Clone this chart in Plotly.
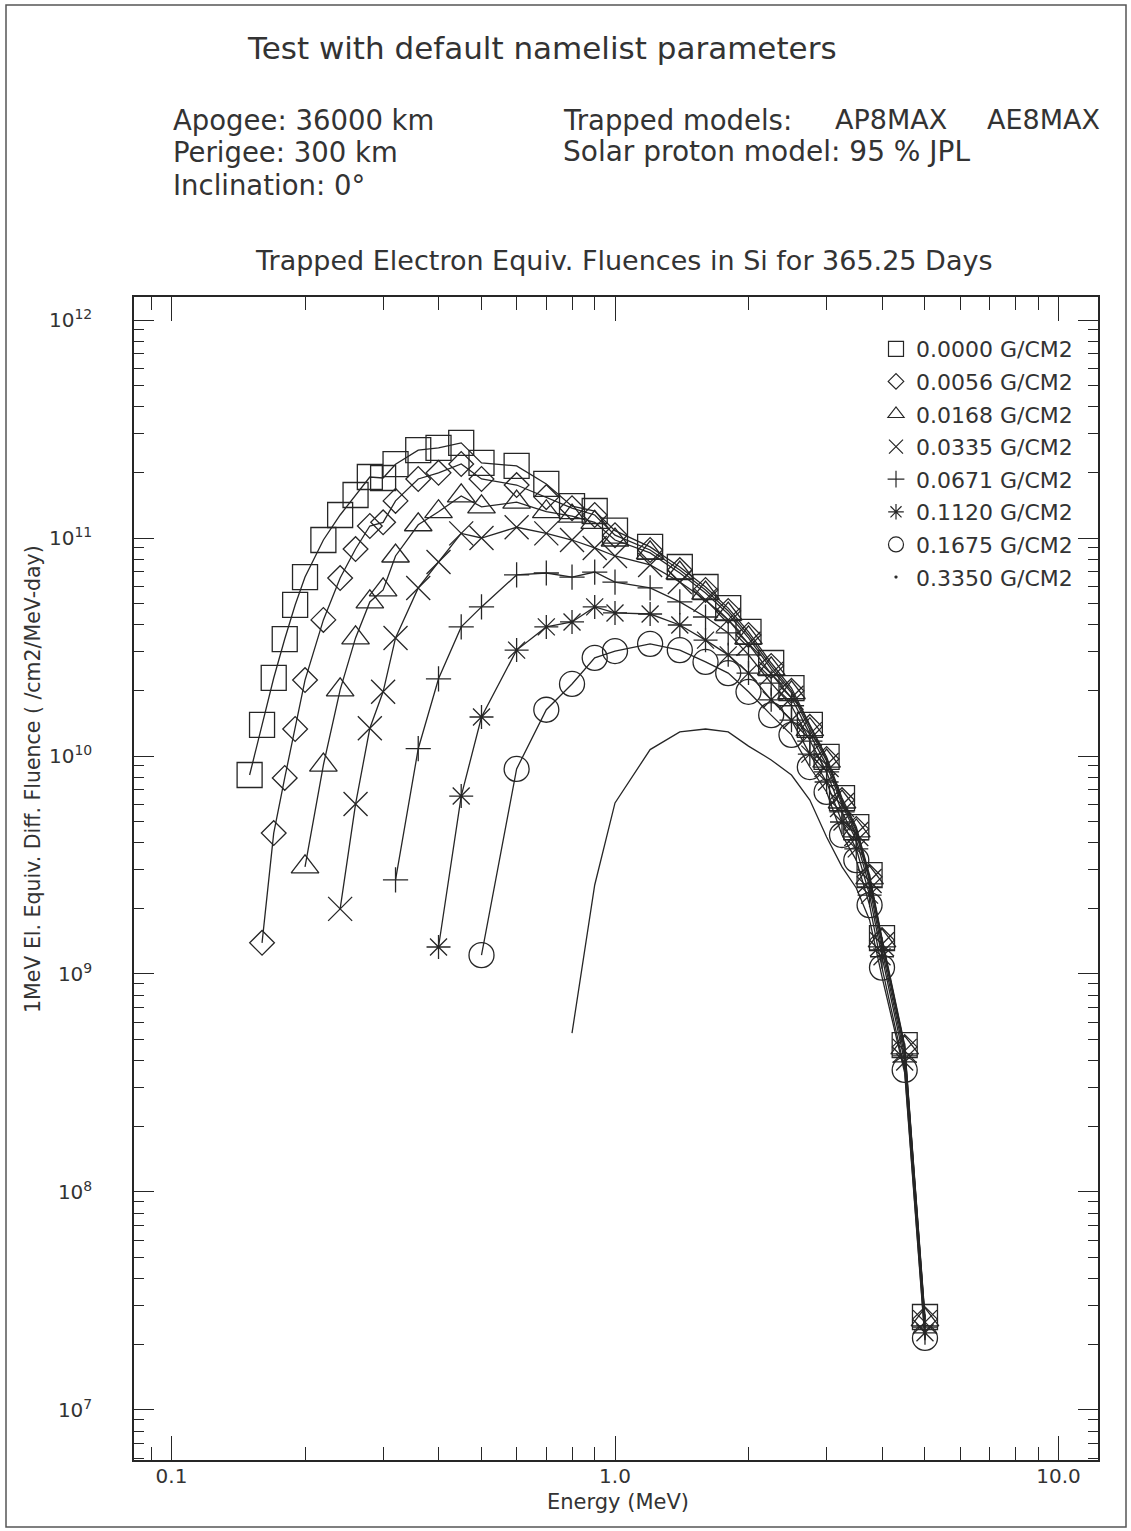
import plotly.graph_objects as go

# ---------------- data ----------------
energy = [0.15, 0.16, 0.17, 0.18, 0.19, 0.20, 0.22, 0.24, 0.26, 0.28, 0.30, 0.32,
          0.36, 0.40, 0.45, 0.50, 0.60, 0.70, 0.80, 0.90, 1.0, 1.2, 1.4, 1.6, 1.8,
          2.0, 2.25, 2.5, 2.75, 3.0, 3.25, 3.5, 3.75, 4.0, 4.5, 5.0]

f_0000 = [8.18e9, 1.39e10, 2.28e10, 3.44e10, 4.93e10, 6.62e10, 9.79e10, 1.275e11, 1.575e11,
          1.905e11, 1.885e11, 2.18e11, 2.53e11, 2.59e11, 2.73e11, 2.21e11, 2.14e11, 1.77e11,
          1.40e11, 1.33e11, 1.08e11, 9.1e10, 7.36e10, 5.96e10, 4.77e10, 3.71e10, 2.67e10,
          2.05e10, 1.39e10, 9.9e9, 6.41e9, 4.72e9, 2.84e9, 1.46e9, 4.72e8, 2.67e7]
f_0056 = [None,
          1.39e9, 4.43e9, 7.93e9, 1.33e10, 2.23e10, 4.21e10, 6.55e10, 8.90e10, 1.135e11, 1.18e11,
          1.48e11, 1.865e11, 1.99e11, 2.185e11, 1.865e11, 1.75e11, 1.54e11, 1.37e11, 1.275e11,
          1.03e11, 8.81e10, 7.13e10, 5.78e10, 4.63e10, 3.59e10, 2.59e10, 1.99e10, 1.36e10,
          9.69e9, 6.28e9, 4.63e9, 2.79e9, 1.43e9, 4.63e8, 2.61e7]
f_0168 = [None, None, None, None, None,
          3.10e9, 9.09e9, 2.01e10, 3.48e10, 5.09e10, 5.78e10, 8.27e10, 1.15e11, 1.32e11, 1.56e11,
          1.39e11, 1.46e11, 1.32e11, 1.26e11, 1.18e11, 9.79e10, 8.54e10, 6.91e10, 5.59e10,
          4.48e10, 3.48e10, 2.51e10, 1.95e10, 1.32e10, 9.48e9, 6.15e9, 4.53e9, 2.76e9, 1.42e9,
          4.58e8, 2.59e7]
f_0335 = [None, None, None, None, None, None, None,
          1.99e9, 6.02e9, 1.34e10, 1.97e10, 3.48e10, 5.90e10, 7.76e10, 1.05e11, 1.00e11, 1.12e11,
          1.05e11, 9.79e10, 9.00e10, 8.27e10, 7.52e10, 6.28e10, 5.20e10, 4.21e10, 3.27e10,
          2.38e10, 1.85e10, 1.26e10, 9.09e9, 5.96e9, 4.39e9, 2.67e9, 1.37e9, 4.44e8, 2.53e7]
f_0671 = [None, None, None, None, None, None, None, None, None, None, None,
          2.70e9, 1.08e10, 2.26e10, 3.91e10, 4.83e10, 6.77e10, 6.91e10, 6.62e10, 6.98e10, 6.28e10,
          5.90e10, 5.09e10, 4.34e10, 3.67e10, 2.91e10, 2.16e10, 1.70e10, 1.17e10, 8.45e9,
          5.54e9, 4.12e9, 2.51e9, 1.29e9, 4.21e8, 2.40e7]
f_1120 = [None, None, None, None, None, None, None, None, None, None, None, None, None,
          1.33e9, 6.55e9, 1.51e10, 3.06e10, 3.91e10, 4.12e10, 4.83e10, 4.53e10, 4.48e10, 3.99e10,
          3.40e10, 2.91e10, 2.40e10, 1.81e10, 1.46e10, 1.02e10, 7.60e9, 4.98e9, 3.75e9, 2.30e9,
          1.20e9, 3.95e8, 2.26e7]
f_1675 = [None, None, None, None, None, None, None, None, None, None, None, None, None, None, None,
          1.22e9, 8.72e9, 1.63e10, 2.14e10, 2.82e10, 3.03e10, 3.27e10, 3.06e10, 2.70e10, 2.40e10,
          1.97e10, 1.54e10, 1.25e10, 8.90e9, 6.84e9, 4.34e9, 3.33e9, 2.07e9, 1.07e9, 3.63e8,
          2.14e7]
f_3350 = [None, None, None, None, None, None, None, None, None, None, None, None, None, None, None,
          None, None, None,
          5.36e8, 2.56e9, 6.09e9, 1.07e10, 1.29e10, 1.33e10, 1.29e10, 1.11e10, 9.59e9, 8.18e9,
          6.28e9, 4.25e9, 3.10e9, 2.48e9, 1.77e9, 9.69e8, 3.52e8, 2.09e7]

series_labels = ["0.0000 G/CM2", "0.0056 G/CM2", "0.0168 G/CM2", "0.0335 G/CM2",
                 "0.0671 G/CM2", "0.1120 G/CM2", "0.1675 G/CM2", "0.3350 G/CM2"]
series_values = [f_0000, f_0056, f_0168, f_0335, f_0671, f_1120, f_1675, f_3350]

x_tickvals = [0.1, 1.0, 10.0]
x_ticktext = ["0.1", "1.0", "10.0"]
x_minor = [0.09, 0.2, 0.3, 0.4, 0.5, 0.6, 0.7, 0.8, 0.9, 2, 3, 4, 5, 6, 7, 8, 9]
y_tickvals = [1e7, 1e8, 1e9, 1e10, 1e11, 1e12]
y_ticktext = ["10<sup>7</sup>", "10<sup>8</sup>", "10<sup>9</sup>",
              "10<sup>10</sup>", "10<sup>11</sup>", "10<sup>12</sup>"]
y_minor = [m * 10 ** e for e in range(6, 13) for m in range(2, 10)]

# ---------------- styling ----------------
W, H = 1131, 1531
L, R, T, B = 134, 1098, 297, 1460
INK = "#262626"
TXT = "#333333"
FONT = "DejaVu Sans"

symbols = ["square-open", "diamond-open", "triangle-up-open", "x-thin-open",
           "cross-thin-open", "asterisk-open", "circle-open", "circle"]
sizes = [25, 19, 24, 24, 18, 20, 25, 2]
modes = ["lines+markers"] * 7 + ["lines"]
leg_sizes = [15, 12, 14, 14, 12, 13, 15, 2]


def px(xp):
    return (xp - L) / (R - L)


def py(yp):
    return (B - yp) / (B - T)


fig = go.Figure()
for vals, sym, sz, md in zip(series_values, symbols, sizes, modes):
    fig.add_trace(go.Scatter(
        x=energy, y=vals, mode=md, showlegend=False,
        line=dict(color=INK, width=1.3),
        marker=dict(symbol=sym, size=sz, color=INK, line=dict(color=INK, width=1.3)),
    ))
for i, (lab, sym, sz) in enumerate(zip(series_labels, symbols, leg_sizes)):
    fig.add_trace(go.Scatter(
        x=[None], y=[None], mode="markers", name=lab, legendgroup=f"g{i}",
        marker=dict(symbol=sym, size=sz, color=INK, line=dict(color=INK, width=1.2)),
    ))

axis_common = dict(
    showline=True, linecolor=INK, linewidth=1.5, mirror="allticks",
    ticks="inside", tickcolor=INK, tickwidth=1.3, showgrid=False, zeroline=False,
    tickfont=dict(family=FONT, size=20, color=TXT),
)

fig.update_xaxes(
    type="log", range=[-1.0846, 1.0891], tickmode="array",
    tickvals=x_tickvals, ticktext=x_ticktext, ticklen=24, ticklabelstandoff=-3,
    minor=dict(tickmode="array", tickvals=x_minor, ticks="inside", ticklen=13,
               tickcolor=INK, tickwidth=1.3, showgrid=False),
    **axis_common,
)
fig.update_yaxes(
    type="log", range=[6.7706, 12.1055], tickmode="array",
    tickvals=y_tickvals, ticktext=y_ticktext, ticklen=20, ticklabelstandoff=36,
    minor=dict(tickmode="array", tickvals=y_minor, ticks="inside", ticklen=10,
               tickcolor=INK, tickwidth=1.3, showgrid=False),
    **axis_common,
)

txt = dict(family=FONT, color=TXT)
annotations = [
    dict(text="Test with default namelist parameters", x=px(542), y=py(48),
         xanchor="center", font=dict(size=31, **txt)),
    dict(text="Apogee: 36000 km", x=px(171), y=py(120), xanchor="left", font=dict(size=27.5, **txt)),
    dict(text="Perigee: 300 km", x=px(171), y=py(152), xanchor="left", font=dict(size=27.5, **txt)),
    dict(text="Inclination: 0°", x=px(171), y=py(185), xanchor="left", font=dict(size=27.5, **txt)),
    dict(text="Trapped models:", x=px(561), y=py(120), xanchor="left", font=dict(size=27.5, **txt)),
    dict(text="AP8MAX", x=px(833), y=py(120), xanchor="left", font=dict(size=27, **txt)),
    dict(text="AE8MAX", x=px(985), y=py(120), xanchor="left", font=dict(size=27, **txt)),
    dict(text="Solar proton model: 95 % JPL", x=px(561), y=py(152), xanchor="left",
         font=dict(size=28, **txt)),
    dict(text="Trapped Electron Equiv. Fluences in Si for 365.25 Days", x=px(624), y=py(260),
         xanchor="center", font=dict(size=27, **txt)),
    dict(text="1MeV El. Equiv. Diff. Fluence ( /cm2/MeV-day)", x=px(33), y=py(779),
         xanchor="center", yanchor="middle", textangle=-90, font=dict(size=20.5, **txt)),
    dict(text="Energy (MeV)", x=px(618), y=py(1502), xanchor="center", yanchor="middle",
         font=dict(size=21, **txt)),
]
for a in annotations:
    a.update(xref="paper", yref="paper", showarrow=False)
    a.setdefault("yanchor", "middle")

fig.update_layout(
    width=W, height=H, margin=dict(l=L, r=W - R, t=T, b=H - B, pad=0),
    paper_bgcolor="white", plot_bgcolor="white",
    font=dict(family=FONT, color=TXT),
    annotations=annotations,
    showlegend=True,
    legend=dict(x=px(1078), y=py(328), xanchor="right", yanchor="top",
                bgcolor="rgba(0,0,0,0)", font=dict(family=FONT, size=22, color=TXT),
                tracegroupgap=1, itemwidth=30),
    shapes=[dict(type="rect", xref="paper", yref="paper", x0=px(6), x1=px(1126),
                 y0=py(1527), y1=py(5), line=dict(color="#555", width=1.5))],
)

fig.write_html("out.html")
